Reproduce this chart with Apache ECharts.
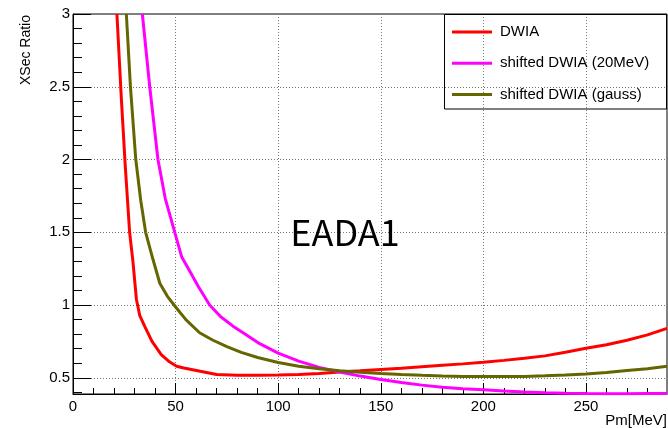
<!DOCTYPE html>
<html>
<head>
<meta charset="utf-8">
<script src="https://cdn.jsdelivr.net/npm/echarts@6/dist/echarts.min.js"></script>
<style>
  html, body { margin: 0; padding: 0; background: #fff; }
  #main { width: 668px; height: 428px; }
</style>
</head>
<body>
<div id="main"></div>
<script>
// values (Pm in MeV, ratio)
const dwiaPm = [21.4, 23.6, 25.5, 27.6, 29.2, 30.9, 32.5, 34.9, 38.5, 43, 47, 50.5, 54, 62, 70, 80, 90, 100, 110, 120, 130, 140, 150, 160, 170, 180, 190, 200, 210, 220, 230, 240, 250, 260, 270, 280, 289.5];
const dwiaRatio = [3.0, 2.41, 1.95, 1.5, 1.3, 1.04, 0.93, 0.855, 0.75, 0.66, 0.61, 0.58, 0.568, 0.545, 0.523, 0.518, 0.518, 0.52, 0.523, 0.53, 0.54, 0.548, 0.557, 0.566, 0.576, 0.586, 0.596, 0.607, 0.62, 0.635, 0.651, 0.676, 0.703, 0.728, 0.758, 0.795, 0.84];

const shiftPm = [33.8, 37.4, 41.4, 45, 49.6, 53, 57, 61, 66.6, 72, 78, 84, 91, 100, 110, 120, 130, 140, 150, 160, 170, 180, 190, 200, 210, 220, 230, 240, 250, 260, 270, 280, 289.5];
const shiftRatio = [3.0, 2.5, 2.0, 1.73, 1.5, 1.33, 1.23, 1.13, 1.0, 0.92, 0.855, 0.8, 0.735, 0.67, 0.615, 0.572, 0.54, 0.512, 0.488, 0.468, 0.45, 0.435, 0.425, 0.418, 0.41, 0.403, 0.397, 0.394, 0.392, 0.391, 0.391, 0.392, 0.393];

const gaussPm = [26, 28, 30.6, 33, 35.4, 39, 42.3, 46, 50.4, 55, 61.7, 68, 75, 82, 90, 100, 110, 120, 130, 140, 150, 160, 170, 180, 190, 200, 210, 220, 230, 240, 250, 260, 270, 280, 289.5];
const gaussRatio = [3.0, 2.5, 2.0, 1.72, 1.5, 1.313, 1.15, 1.06, 0.98, 0.9, 0.81, 0.76, 0.715, 0.675, 0.64, 0.605, 0.58, 0.562, 0.548, 0.538, 0.53, 0.523, 0.517, 0.513, 0.51, 0.509, 0.509, 0.51, 0.514, 0.52, 0.527, 0.537, 0.55, 0.563, 0.58];

const seriesNames = ['DWIA', 'shifted DWIA (20MeV)', 'shifted DWIA (gauss)'];
const seriesColors = ['#ff0000', '#ff00ff', '#666600'];

// axis ticks
const xMajor = [0, 50, 100, 150, 200, 250];
const xMinor = [10, 20, 30, 40, 60, 70, 80, 90, 110, 120, 130, 140, 160, 170, 180, 190, 210, 220, 230, 240, 260, 270, 280];
const yMajor = [0.5, 1, 1.5, 2, 2.5, 3];
const yMinor = [0.4, 0.6, 0.7, 0.8, 0.9, 1.1, 1.2, 1.3, 1.4, 1.6, 1.7, 1.8, 1.9, 2.1, 2.2, 2.3, 2.4, 2.6, 2.7, 2.8, 2.9];

const X_MIN = 0, X_MAX = 289.5, Y_MIN = 0.389, Y_MAX = 3;
const font = 'Liberation Sans';

function pairs(xs, ys) {
  return xs.map(function (x, i) { return [x, ys[i]]; });
}

const chart = echarts.init(document.getElementById('main'), null, { renderer: 'canvas' });

var option = {
  backgroundColor: '#fff',
  animation: false,
  grid: {
    left: 73,
    top: 14,
    width: 594,
    height: 380,
    show: true,
    borderColor: '#000',
    borderWidth: 1,
    backgroundColor: '#fff',
    outerBoundsMode: 'none'
  },
  legend: {
    data: seriesNames,
    orient: 'vertical',
    left: 452,
    top: 24.5,
    padding: 0,
    icon: 'rect',
    itemWidth: 40,
    itemHeight: 3,
    itemGap: 16.3,
    textStyle: { fontFamily: font, fontSize: 15, color: '#000', lineHeight: 15, padding: [0, 0, 0, 3] }
  },
  xAxis: [{
    type: 'value',
    min: X_MIN,
    max: X_MAX,
    position: 'bottom',
    axisLine: { show: true, onZero: false, lineStyle: { color: '#000', width: 1 } },
    axisTick: { show: true, inside: true, length: 11, customValues: xMajor, lineStyle: { color: '#000' } },
    axisLabel: { customValues: xMajor, margin: 5, fontFamily: font, fontSize: 15, color: '#000' },
    splitLine: { show: true, lineStyle: { color: '#777', type: [1, 2], width: 1 } }
  }, {
    // minor ticks only
    type: 'value',
    min: X_MIN,
    max: X_MAX,
    position: 'bottom',
    axisLine: { show: false, onZero: false },
    axisTick: { show: true, inside: true, length: 6, customValues: xMinor, lineStyle: { color: '#000' } },
    axisLabel: { show: false },
    splitLine: { show: false }
  }],
  yAxis: [{
    type: 'value',
    min: Y_MIN,
    max: Y_MAX,
    position: 'left',
    axisLine: { show: true, onZero: false, lineStyle: { color: '#000', width: 1 } },
    axisTick: { show: true, inside: true, length: 18, customValues: yMajor, lineStyle: { color: '#000' } },
    axisLabel: { customValues: yMajor, margin: 3, fontFamily: font, fontSize: 15, color: '#000' },
    splitLine: { show: true, lineStyle: { color: '#777', type: [1, 2], width: 1 } }
  }, {
    type: 'value',
    min: Y_MIN,
    max: Y_MAX,
    position: 'left',
    axisLine: { show: false, onZero: false },
    axisTick: { show: true, inside: true, length: 9, customValues: yMinor, lineStyle: { color: '#000' } },
    axisLabel: { show: false },
    splitLine: { show: false }
  }],
  graphic: [
    {
      type: 'rect',
      shape: { x: 444.5, y: 14.5, width: 222, height: 94.5 },
      style: { fill: null, stroke: '#000', lineWidth: 1 },
      z: 100
    },
    {
      type: 'text',
      x: 345,
      y: 232,
      style: { text: 'EADA1', fontFamily: 'Noto Sans CJK SC', fontSize: 36, fill: '#000', align: 'center', verticalAlign: 'middle' },
      z: 100
    },
    {
      type: 'text',
      x: 26,
      y: 15,
      rotation: Math.PI / 2,
      style: { text: 'XSec Ratio', fontFamily: font, fontSize: 14, fill: '#000', align: 'right', verticalAlign: 'middle' }
    },
    {
      type: 'text',
      x: 667,
      y: 421,
      style: { text: 'Pm[MeV]', fontFamily: font, fontSize: 15, fill: '#000', align: 'right', verticalAlign: 'middle' }
    }
  ],
  series: [
    { name: seriesNames[0], data: pairs(dwiaPm, dwiaRatio) },
    { name: seriesNames[1], data: pairs(shiftPm, shiftRatio) },
    { name: seriesNames[2], data: pairs(gaussPm, gaussRatio) }
  ].map(function (s, i) {
    return {
      name: s.name,
      type: 'line',
      xAxisIndex: 0,
      yAxisIndex: 0,
      data: s.data,
      symbol: 'none',
      smooth: false,
      clip: true,
      color: seriesColors[i],
      lineStyle: { color: seriesColors[i], width: 3 }
    };
  })
};
chart.setOption(option);
</script>
</body>
</html>
